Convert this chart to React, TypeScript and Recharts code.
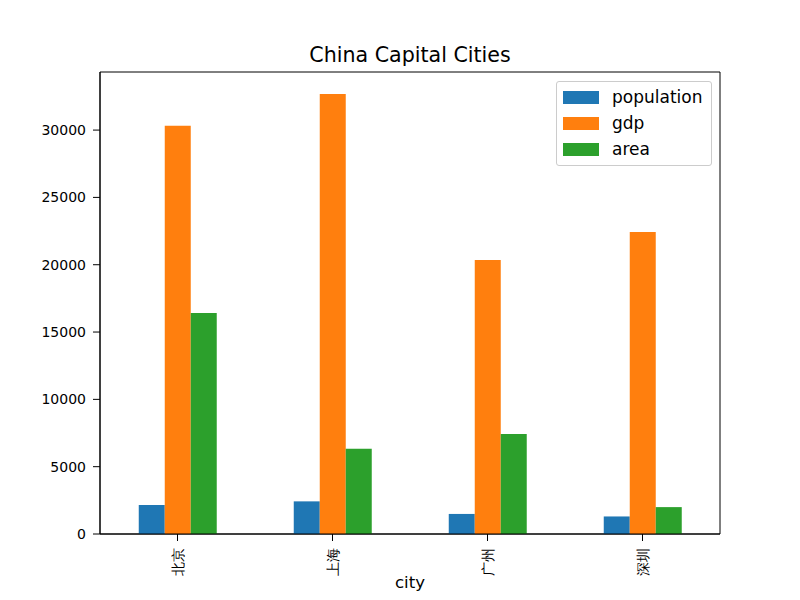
import React from 'react';
import { BarChart, Bar, XAxis, YAxis, ReferenceArea } from 'recharts';

const cities = ['北京', '上海', '广州', '深圳'];
const population = [2154, 2424, 1490, 1303];
const gdp = [30320, 32680, 20350, 22430];
const area = [16410, 6340, 7434, 1997];
const yTicks = [0, 5000, 10000, 15000, 20000, 25000, 30000];
const seriesNames = ['population', 'gdp', 'area'];
const colors = ['#1f77b4', '#ff7f0e', '#2ca02c'];

const data = cities.map((c, i) => ({ city: c, population: population[i], gdp: gdp[i], area: area[i] }));
const yMax = Math.max(...gdp) * 1.05;
const FONT = 'DejaVu Sans, sans-serif';

const XTick = (props: any) => {
  const { x, y, payload } = props;
  return (
    <text
      x={x}
      y={y}
      transform={`rotate(-90, ${x}, ${y})`}
      dx={-5}
      dy={5}
      textAnchor="end"
      fontSize={14}
      fontFamily={FONT}
      fill="#000"
    >
      {payload.value}
    </text>
  );
};

const LegendBox = () => (
  <div
    style={{
      position: 'absolute',
      top: 81,
      left: 556,
      border: '1px solid #cccccc',
      borderRadius: 3,
      background: '#fff',
      width: 156,
      height: 85,
      boxSizing: 'border-box',
      fontFamily: FONT,
      fontSize: 17,
    }}
  >
    {seriesNames.map((n, i) => (
      <div key={n} style={{ position: 'absolute', left: 6, top: 7 + i * 26, height: 16, display: 'flex', alignItems: 'center' }}>
        <div style={{ width: 36, height: 13, background: colors[i] }} />
        <span style={{ marginLeft: 13, color: '#000', lineHeight: '16px' }}>{n}</span>
      </div>
    ))}
  </div>
);

export default function App() {
  return (
    <div style={{ position: 'absolute', left: 0, top: 0, width: 800, height: 600, background: '#fff' }}>
      <div
        style={{
          position: 'absolute',
          top: 43,
          left: 100,
          width: 620,
          textAlign: 'center',
          fontFamily: FONT,
          fontSize: 20.6,
          color: '#000',
        }}
      >
        China Capital Cities
      </div>
      <BarChart
        width={800}
        height={600}
        data={data}
        margin={{ top: 72, right: 80, left: 0, bottom: 0 }}
        barCategoryGap="25%"
        barGap={0}
      >
        <XAxis
          dataKey="city"
          height={66}
          tick={<XTick />}
          tickSize={7}
          tickLine={{ stroke: '#000' }}
          axisLine={{ stroke: '#000' }}
          interval={0}
          label={{ value: 'city', position: 'insideBottom', offset: 12, fill: '#000', fontSize: 16.6, fontFamily: FONT }}
        />
        <YAxis
          width={100}
          domain={[0, yMax]}
          ticks={yTicks}
          tickSize={7}
          tickMargin={7}
          tickLine={{ stroke: '#000' }}
          axisLine={{ stroke: '#000' }}
          tick={{ fill: '#000', fontSize: 14, fontFamily: FONT }}
          allowDataOverflow
        />
        <ReferenceArea y1={0} y2={yMax} fill="none" stroke="#000" strokeWidth={1} ifOverflow="visible" />
        {seriesNames.map((n, i) => (
          <Bar key={n} dataKey={n} fill={colors[i]} isAnimationActive={false} />
        ))}
      </BarChart>
      <LegendBox />
    </div>
  );
}
